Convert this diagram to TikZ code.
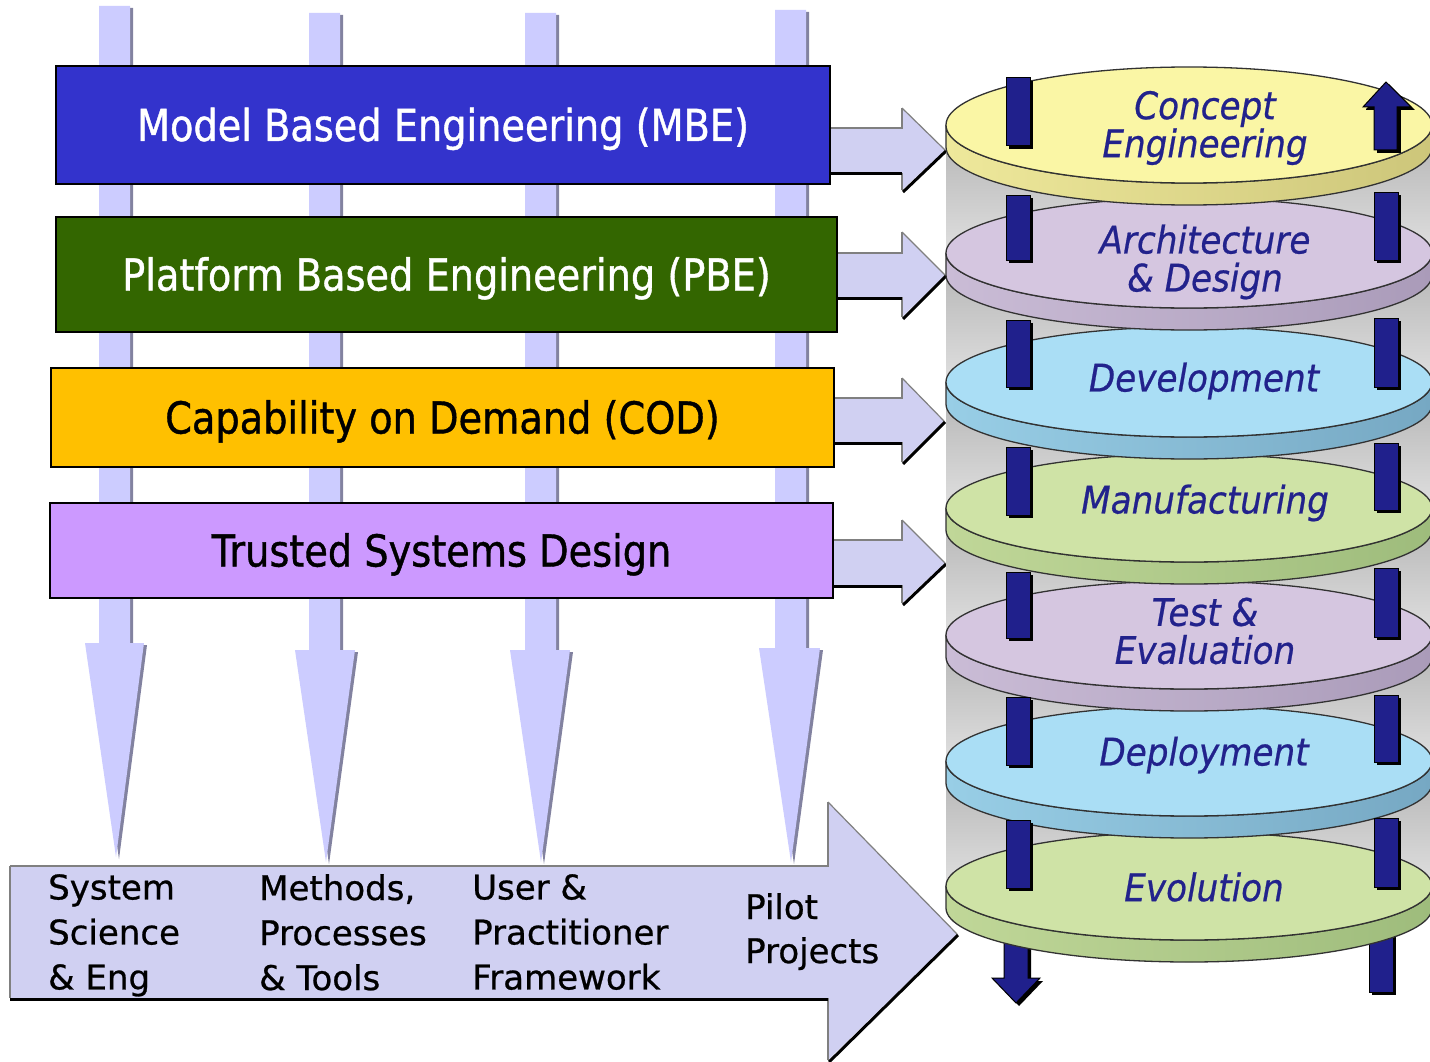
\documentclass[tikz,border=0pt]{standalone}
\usepackage{fontspec}
\setmainfont{DejaVu Sans}[FakeBold=0.7]
\newfontfamily\titlefont{DejaVu Sans}[FakeStretch=0.87,FakeBold=0.9]
\newfontfamily\diskfont{DejaVu Sans}[FakeStretch=0.9,FakeBold=0.6]
\definecolor{cMBE}{RGB}{51,51,204}
\definecolor{cPBE}{RGB}{51,102,0}
\definecolor{cCOD}{RGB}{255,192,0}
\definecolor{cTSD}{RGB}{204,153,255}
\definecolor{varrow}{RGB}{204,204,255}
\definecolor{vshadow}{RGB}{130,130,160}
\definecolor{blockfill}{RGB}{208,208,242}
\definecolor{edgegray}{RGB}{128,128,128}
\definecolor{navytext}{RGB}{34,34,140}
\definecolor{postnavy}{RGB}{32,32,140}
\definecolor{diskline}{RGB}{50,50,50}
\definecolor{yeltop}{RGB}{250,246,165}
\definecolor{yelL}{RGB}{238,232,155}
\definecolor{yelR}{RGB}{205,198,122}
\definecolor{lavtop}{RGB}{213,198,224}
\definecolor{lavL}{RGB}{202,188,214}
\definecolor{lavR}{RGB}{170,155,185}
\definecolor{bluetop}{RGB}{170,222,245}
\definecolor{blueL}{RGB}{152,206,230}
\definecolor{blueR}{RGB}{118,168,195}
\definecolor{greentop}{RGB}{207,227,166}
\definecolor{greenL}{RGB}{192,215,152}
\definecolor{greenR}{RGB}{158,188,124}

\newcommand\vdownarr[8]{%
  \fill[vshadow] (#1+3,#3+2) -- (#2+3,#3+2) -- (#2+3,#4+2) -- (#6+3,#4+2) -- (#7+3,#8+2) -- (#5+3,#4+2) -- (#1+3,#4+2) -- cycle;
  \fill[varrow] (#1,#3) -- (#2,#3) -- (#2,#4) -- (#6,#4) -- (#7,#8) -- (#5,#4) -- (#1,#4) -- cycle;}

\newcommand\rblockarr[8]{%
  \fill[blockfill] (#1,#2) -- (#4,#2) -- (#4,#5) -- (#7,#8) -- (#4,#6) -- (#4,#3) -- (#1,#3) -- cycle;
  \draw[edgegray, line width=2pt] (#1,#2) -- (#4,#2) -- (#4,#5);
  \draw[edgegray, line width=1.2pt] (#4,#5) -- (#7,#8);
  \draw[edgegray, line width=2pt] (#4,#6) -- (#4,#3);
  \draw[black, line width=3pt] (#7+1,#8+1) -- (#4+1,#6+2);
  \draw[black, line width=3pt] (#4,#3+1) -- (#1,#3+1);}

\newcommand\diskdraw[5]{%
  \shadedraw[left color=#4, right color=#5, draw=diskline, line width=1.3pt]
    (946,#1) -- (946,#1+22) arc[start angle=180, end angle=0, x radius=243, y radius=#2]
    -- (1432,#1) arc[start angle=0, end angle=180, x radius=243, y radius=#2] -- cycle;
  \filldraw[fill=#3, draw=diskline, line width=1.3pt] (1189,#1) ellipse [x radius=243, y radius=#2];}

\newcommand\postbar[4]{%
  \fill[black] (#1+3,#3+3) rectangle (#2+3,#4+3);
  \filldraw[fill=postnavy, draw=black, line width=1pt] (#1,#3) rectangle (#2,#4);}

\begin{document}
\begin{tikzpicture}[x=1pt,y=-1pt,
  tbox/.style={draw=black, line width=2.5pt, inner sep=0pt, text height=32pt, text depth=0pt, font=\titlefont\fontsize{44}{50}\selectfont},
  disklabel/.style={align=center, inner sep=0pt, text=navytext, font=\diskfont\itshape\fontsize{38}{38}\selectfont},
  bottomlabel/.style={align=left, anchor=north west, inner sep=0pt, font=\fontsize{34}{45}\selectfont}]
\useasboundingbox (0,0) rectangle (1430,1062);
\fill[white] (0,0) rectangle (1430,1062);

% vertical arrows
\vdownarr{99}{130}{6}{643}{85}{144}{116}{857}
\vdownarr{309}{340}{13}{650}{295}{355}{326}{862}
\vdownarr{525}{556}{13}{650}{510}{570}{541}{862}
\vdownarr{775}{806}{10}{648}{759}{820}{791}{862}

% boxes
\node[tbox, fill=cMBE, text=white, minimum width=774pt, minimum height=118pt] (mbe) at (443,125) {Model Based Engineering (MBE)};
\node[tbox, fill=cPBE, text=white, minimum width=781pt, minimum height=115pt] (pbe) at (446.5,274.5) {Platform Based Engineering (PBE)};
\node[tbox, fill=cCOD, text=black, minimum width=783pt, minimum height=99pt] (cod) at (442.5,417.5) {Capability on Demand (COD)};
\node[tbox, fill=cTSD, text=black, minimum width=783pt, minimum height=95pt] (tsd) at (441.5,550.5) {Trusted Systems Design};

% right block arrows
\rblockarr{831}{128}{173}{902}{108}{190}{945}{150}
\rblockarr{838}{253}{297}{902}{232}{317}{945}{275}
\rblockarr{835}{398}{442}{902}{378}{462}{944}{421}
\rblockarr{834}{540}{585}{902}{520}{603}{945}{563}

% cylinder background
\foreach \a/\b in {125/253,253/382,382/508,508/635,635/761,761/886}
  \shade[top color=gray!60, bottom color=gray!25] (946,\a) rectangle (1432,\b);

% bottom posts (under the last disk)
\fill[black] (1007,933) -- (1031,933) -- (1031,981) -- (1043,981) -- (1019,1006) -- (995,981) -- (1007,981) -- cycle;
\filldraw[fill=postnavy, draw=black, line width=1pt] (1004,930) -- (1028,930) -- (1028,978) -- (1040,978) -- (1016,1003) -- (992,978) -- (1004,978) -- cycle;
\postbar{1369}{1393}{925}{992}

% disks, bottom to top
\diskdraw{886}{54}{greentop}{greenL}{greenR}
\diskdraw{761}{55}{bluetop}{blueL}{blueR}
\diskdraw{635}{54}{lavtop}{lavL}{lavR}
\diskdraw{508}{54}{greentop}{greenL}{greenR}
\diskdraw{382}{55}{bluetop}{blueL}{blueR}
\diskdraw{253}{55}{lavtop}{lavL}{lavR}
\diskdraw{125}{58}{yeltop}{yelL}{yelR}

% posts
\foreach \a/\b in {78/146,195/260,320/387,447/515,572/638,697/765,820/888}
  \postbar{1006}{1030}{\a}{\b}
\foreach \a/\b in {192/260,318/387,443/510,568/637,695/762,818/887}
  \postbar{1374}{1398}{\a}{\b}
% up arrow on top disk
\fill[black] (1377,153) -- (1377,110) -- (1366,110) -- (1389,85) -- (1414,110) -- (1400,110) -- (1400,153) -- cycle;
\filldraw[fill=postnavy, draw=black, line width=1pt] (1374,150) -- (1374,107) -- (1363,107) -- (1386,82) -- (1411,107) -- (1397,107) -- (1397,150) -- cycle;

% disk labels
\node[disklabel] (l1) at (1205,128) {Concept\\Engineering};
\node[disklabel] (l2) at (1205,262) {Architecture\\\& Design};
\node[disklabel] (l3) at (1204,381) {Development};
\node[disklabel] (l4) at (1205,503) {Manufacturing};
\node[disklabel] (l5) at (1205,631) {Test \&\\Evaluation};
\node[disklabel] (l6) at (1204,755) {Deployment};
\node[disklabel] (l7) at (1204,887) {Evolution};

% bottom big arrow
\rblockarr{10}{866}{998}{828}{802}{1060}{957}{934}
\draw[edgegray, line width=2pt] (10,998) -- (10,866);

\node[bottomlabel] (b1) at (48,874) {System\\Science\\\& Eng};
\node[bottomlabel] (b2) at (259,874) {Methods,\\Processes\\\& Tools};
\node[bottomlabel] (b3) at (472,874) {User \&\\Practitioner\\Framework};
\node[bottomlabel, font=\fontsize{34}{44}\selectfont] (b4) at (745,893) {Pilot\\Projects};
\end{tikzpicture}
\end{document}
